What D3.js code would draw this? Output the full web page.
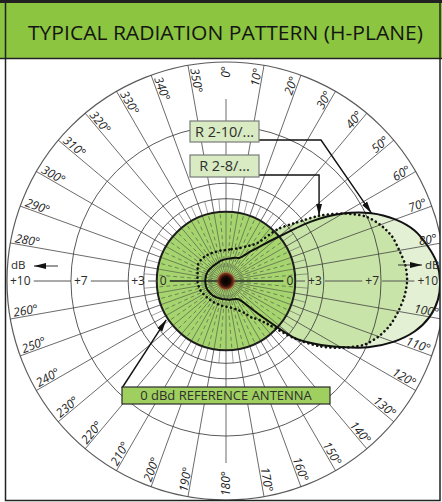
<!DOCTYPE html>
<html lang="en">
<head>
<meta charset="UTF-8">
<title>Typical Radiation Pattern (H-Plane)</title>
<script src="https://d3js.org/d3.v7.min.js"></script>
<style>
    body { margin: 0; background: #fff; }
    svg { display: block; font-family: "Open Sans", "DejaVu Sans", sans-serif; }
</style>
</head>
<body>
<div id="chart"></div>
<script>
// angles in degrees, clockwise from north
var patternAngles = [0, 10, 20, 30, 35, 40, 45, 50, 55, 60, 65, 70, 75, 80, 85, 90, 95, 100, 105, 110, 115, 120, 125, 130,
    135, 140, 145, 150, 160, 170, 180, 190, 200, 210, 220, 230, 240, 250, 260, 270, 280, 290, 300, 310, 320, 330, 340, 350];
// gain in dBd
var r210 = [-10.0, -9.6, -8.9, -8.3, -7.0, -5.0, -2.8, 0.0, 3.5, 5.8, 7.3, 8.3, 9.0, 9.4, 9.7, 9.8, 9.75, 9.5, 9.0, 8.2, 7.1, 5.6, 4.0, 2.0,
    -3.0, -7.5, -9.8, -10.5, -11.0, -11.2, -11.5, -11.5, -11.5, -11.3, -11.0, -10.9, -10.7, -10.5, -10.5, -10.5, -10.5, -10.5, -10.6, -10.8, -10.9, -10.9, -10.6, -10.3];
var r28 = [-7.0, -6.6, -6.0, -4.8, -4.0, -2.8, 0.5, 2.3, 4.3, 5.8, 6.9, 7.5, 7.9, 8.1, 8.3, 8.35, 8.25, 8.05, 7.8, 7.4, 6.8, 5.7, 4.3, 2.2,
    -0.8, -2.8, -3.8, -5.5, -7.2, -8.2, -8.6, -8.8, -9.0, -9.0, -9.0, -8.8, -8.5, -8.1, -7.9, -7.7, -7.6, -7.2, -6.6, -6.5, -6.6, -6.8, -7.0, -7.0];

var ringValues = [1.5, 3, 7, 10];
var axisTicks = [0, 3, 7, 10];
var axisLabels = ["0", "+3", "+7", "+10"];
var labelAngles = [0, 10, 20, 30, 40, 50, 60, 70, 80, 100, 110, 120, 130, 140, 150, 160, 170,
    180, 190, 200, 210, 220, 230, 240, 250, 260, 280, 290, 300, 310, 320, 330, 340, 350];

var W = 442, H = 502;
var cx = 226, cy = 281, rMax = 219;

var amp = d3.scaleLinear().domain([0, Math.pow(10, 10 / 20)]).range([0, rMax]);
function r(db) { return amp(Math.pow(10, db / 20)); }
function rad(a) { return a * Math.PI / 180; }
function pr(a, rr) { return [cx + rr * Math.sin(rad(a)), cy - rr * Math.cos(rad(a))]; }
var r0 = r(0);

var svg = d3.select('#chart').append('svg').attr('width', W).attr('height', H);

var defs = svg.append('defs');
defs.append('clipPath').attr('id', 'clip')
    .append('rect').attr('x', 6).attr('y', 59).attr('width', 434).attr('height', 441);
defs.append('marker').attr('id', 'arrow')
    .attr('viewBox', '0 0 12 8').attr('refX', 12).attr('refY', 4)
    .attr('markerWidth', 12).attr('markerHeight', 8).attr('markerUnits', 'userSpaceOnUse')
    .attr('orient', 'auto')
    .append('path').attr('d', 'M0,1 L12,4 L0,7 Z').attr('fill', '#111');
var grad = defs.append('radialGradient').attr('id', 'dot');
grad.append('stop').attr('offset', '0%').attr('stop-color', '#000');
grad.append('stop').attr('offset', '45%').attr('stop-color', '#1a0a05');
grad.append('stop').attr('offset', '75%').attr('stop-color', '#7a2e1c');
grad.append('stop').attr('offset', '100%').attr('stop-color', '#a04a2a').attr('stop-opacity', 0);

// title
svg.append('rect').attr('x', 0).attr('y', 0).attr('width', W).attr('height', 58).attr('fill', '#8cc540');
svg.append('line').attr('x1', 0).attr('x2', W).attr('y1', 1.5).attr('y2', 1.5).attr('stroke', '#222').attr('stroke-width', 3);
svg.append('text').attr('x', 28).attr('y', 40)
    .attr('textLength', 395).attr('lengthAdjust', 'spacingAndGlyphs')
    .attr('font-size', 20).attr('fill', '#141414')
    .text('TYPICAL RADIATION PATTERN (H-PLANE)');

var g = svg.append('g').attr('clip-path', 'url(#clip)');
g.append('rect').attr('x', 6).attr('y', 59).attr('width', 434).attr('height', 441).attr('fill', '#fff');

var line = d3.lineRadial()
    .angle(function(d) { return rad(d[0]); })
    .radius(function(d) { return r(d[1]); })
    .curve(d3.curveCardinalClosed.tension(0.2));

var data210 = patternAngles.map(function(a, i) { return [a, r210[i]]; });
var data28 = patternAngles.map(function(a, i) { return [a, r28[i]]; });

var pg = g.append('g').attr('transform', 'translate(' + cx + ',' + cy + ')');
pg.append('path').attr('d', line(data210)).attr('fill', '#e3f0d4');
pg.append('path').attr('d', line(data28)).attr('fill', '#c9e4a8');

// grid
var grid = g.append('g').attr('stroke', '#3d3d3d').attr('fill', 'none');
grid.selectAll('circle.ring').data(ringValues).enter().append('circle')
    .attr('cx', cx).attr('cy', cy).attr('r', function(d) { return r(d); })
    .attr('stroke-width', function(d) { return d === 10 ? 1.2 : 1; })
    .attr('stroke-opacity', 0.85);

var major = d3.range(0, 360, 10).filter(function(a) { return a !== 90 && a !== 270; });
grid.selectAll('line.major').data(major).enter().append('line')
    .attr('x1', function(a) { return pr(a, r0)[0]; })
    .attr('y1', function(a) { return pr(a, r0)[1]; })
    .attr('x2', function(a) { return pr(a, (a === 0 || a === 180) ? 182 : rMax)[0]; })
    .attr('y2', function(a) { return pr(a, (a === 0 || a === 180) ? 182 : rMax)[1]; })
    .attr('stroke-width', 0.9).attr('stroke-opacity', 0.85);

var minor = d3.range(5, 360, 10);
grid.selectAll('line.minor').data(minor).enter().append('line')
    .attr('x1', function(a) { return pr(a, r0)[0]; })
    .attr('y1', function(a) { return pr(a, r0)[1]; })
    .attr('x2', function(a) { return pr(a, r(1.5))[0]; })
    .attr('y2', function(a) { return pr(a, r(1.5))[1]; })
    .attr('stroke-width', 0.8).attr('stroke-opacity', 0.6);

// reference antenna circle
g.append('circle').attr('cx', cx).attr('cy', cy).attr('r', r0).attr('fill', '#a6d46e');
var spokes = g.append('g').attr('stroke', '#5e6e4b').attr('stroke-width', 0.8);
spokes.selectAll('line.s10').data(major).enter().append('line')
    .attr('x1', function(a) { return pr(a, 9)[0]; })
    .attr('y1', function(a) { return pr(a, 9)[1]; })
    .attr('x2', function(a) { return pr(a, r0)[0]; })
    .attr('y2', function(a) { return pr(a, r0)[1]; });
spokes.selectAll('line.s5').data(minor).enter().append('line')
    .attr('x1', function(a) { return pr(a, 14)[0]; })
    .attr('y1', function(a) { return pr(a, 14)[1]; })
    .attr('x2', function(a) { return pr(a, r0)[0]; })
    .attr('y2', function(a) { return pr(a, r0)[1]; })
    .attr('stroke-dasharray', '4,3');
g.append('circle').attr('cx', cx).attr('cy', cy).attr('r', r0)
    .attr('fill', 'none').attr('stroke', '#1e1e1e').attr('stroke-width', 2);

// horizontal dB axis
var ax = g.append('g').attr('font-size', 12).attr('fill', '#2b2b2b');
var boxes = [];
axisTicks.forEach(function(d, i) {
    var rr = r(d);
    var tl = ax.append('text').attr('x', cx - rr + 3).attr('y', cy + 4).attr('text-anchor', 'start').text(axisLabels[i]);
    var xr = d === 10 ? 438 : cx + rr - 2;
    var tr = ax.append('text').attr('x', xr).attr('y', cy + 4).attr('text-anchor', 'end').text(axisLabels[i]);
    boxes.push(tl.node().getBBox(), tr.node().getBBox());
});
boxes.sort(function(a, b) { return a.x - b.x; });
var segs = [], xs = cx - rMax;
boxes.forEach(function(b) {
    if (b.x - 3 > xs) segs.push([xs, b.x - 3]);
    xs = b.x + b.width + 3;
});
segs.push([xs, W]);
g.selectAll('line.axis').data(segs).enter().append('line')
    .attr('x1', function(d) { return d[0]; }).attr('x2', function(d) { return d[1]; })
    .attr('y1', cy).attr('y2', cy)
    .attr('stroke', function(d) { return (d[0] > cx - r0 && d[1] < cx + r0) ? '#3f4d33' : '#555'; })
    .attr('stroke-width', function(d) { return (d[0] > cx - r0 && d[1] < cx + r0) ? 1.8 : 1; });

// pattern outlines, drawn over the reference circle
var og = g.append('g').attr('transform', 'translate(' + cx + ',' + cy + ')');
og.append('path').attr('d', line(data210)).attr('fill', 'none')
    .attr('stroke', '#111').attr('stroke-width', 2);
og.append('path').attr('d', line(data28)).attr('fill', 'none')
    .attr('stroke', '#111').attr('stroke-width', 2.6)
    .attr('stroke-dasharray', '0.1,4.4').attr('stroke-linecap', 'round');

g.append('circle').attr('cx', cx).attr('cy', cy).attr('r', 10).attr('fill', 'url(#dot)');

// degree labels
var lab = g.append('g').attr('font-size', 12).attr('font-style', 'italic').attr('fill', '#222');
labelAngles.forEach(function(a) {
    var right = a < 180;
    var rot = right ? a - 90 : a + 90;
    var p = pr(a, 215);
    var centred = (a === 0 || a === 180);
    lab.append('text')
        .attr('x', p[0]).attr('y', p[1])
        .attr('dy', centred ? '0.35em' : -1.5)
        .attr('text-anchor', right ? 'end' : 'start')
        .attr('transform', 'rotate(' + rot + ',' + p[0] + ',' + p[1] + ')')
        .text(a + '\u00B0');
});

// dB arrows
g.append('text').attr('x', 11).attr('y', 269).attr('font-size', 11.5).attr('fill', '#2b2b2b').text('dB');
g.append('line').attr('x1', 58).attr('x2', 34).attr('y1', 266).attr('y2', 266)
    .attr('stroke', '#333').attr('stroke-width', 1).attr('marker-end', 'url(#arrow)');
g.append('line').attr('x1', 398).attr('x2', 422).attr('y1', 265).attr('y2', 265)
    .attr('stroke', '#333').attr('stroke-width', 1).attr('marker-end', 'url(#arrow)');
g.append('text').attr('x', 425).attr('y', 269).attr('font-size', 11.5).attr('fill', '#2b2b2b').text('dB');

// callouts
var tip210 = pr(65, r(r210[patternAngles.indexOf(65)]));
var tip28 = pr(55, r(r28[patternAngles.indexOf(55)]));
var tipRef = pr(237, r0 + 2);

var ann = g.append('g');
ann.append('path').attr('d', 'M259,140 L321,140 L' + tip210[0] + ',' + tip210[1])
    .attr('fill', 'none').attr('stroke', '#111').attr('stroke-width', 1.4).attr('marker-end', 'url(#arrow)');
ann.append('path').attr('d', 'M259,175 L' + tip28[0] + ',175 L' + tip28[0] + ',' + tip28[1])
    .attr('fill', 'none').attr('stroke', '#111').attr('stroke-width', 1.4).attr('marker-end', 'url(#arrow)');
ann.append('path').attr('d', 'M122,388 L' + tipRef[0] + ',' + tipRef[1])
    .attr('fill', 'none').attr('stroke', '#111').attr('stroke-width', 1.4).attr('marker-end', 'url(#arrow)');

function box(x, y, w, h, fill, stroke, label, fs) {
    ann.append('rect').attr('x', x).attr('y', y).attr('width', w).attr('height', h)
        .attr('fill', fill).attr('stroke', stroke).attr('stroke-width', 1.2);
    ann.append('text').attr('x', x + w / 2).attr('y', y + h / 2).attr('dy', '0.36em')
        .attr('text-anchor', 'middle').attr('font-size', fs).attr('fill', '#2e2e2e').text(label);
}
box(190, 121, 69, 21, '#d8ebc2', '#7a7a7a', 'R 2-10/...', 14.5);
box(190, 155, 69, 22, '#d8ebc2', '#7a7a7a', 'R 2-8/...', 14.5);
box(122, 387, 208, 17, '#9fcf5f', '#2a2a2a', '0 dBd REFERENCE ANTENNA', 13);

// frame
svg.append('line').attr('x1', 0).attr('x2', W).attr('y1', 58.5).attr('y2', 58.5).attr('stroke', '#222').attr('stroke-width', 1.5);
svg.append('rect').attr('x', 5.5).attr('y', 1).attr('width', 434.5).attr('height', 499.5)
    .attr('fill', 'none').attr('stroke', '#222').attr('stroke-width', 1.5);
</script>
</body>
</html>
